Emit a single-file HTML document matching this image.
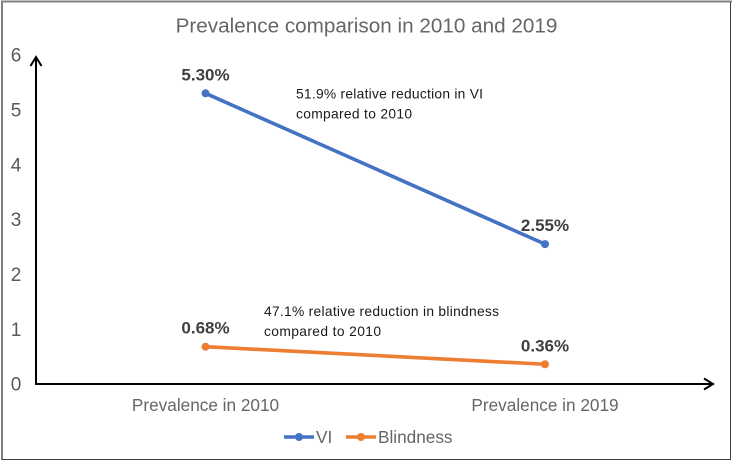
<!DOCTYPE html>
<html>
<head>
<meta charset="utf-8">
<style>
html,body{margin:0;padding:0;background:#fff;width:733px;height:462px;overflow:hidden}
svg{display:block;font-family:"Liberation Sans",sans-serif}
</style>
</head>
<body>
<svg id="chart" width="733" height="462" viewBox="0 0 733 462" xmlns="http://www.w3.org/2000/svg">
<rect x="0" y="0" width="733" height="462" fill="#fff"/>
<line x1="1" y1="1.500" x2="732" y2="1.500" stroke="#808080" stroke-width="2"/>
<line x1="2" y1="1" x2="2" y2="460" stroke="#808080" stroke-width="2"/>
<line x1="730.500" y1="2" x2="730.500" y2="460" stroke="#404040" stroke-width="1"/>
<line x1="2" y1="459.500" x2="731" y2="459.500" stroke="#404040" stroke-width="1"/>
<text x="366.500" y="32.500" text-anchor="middle" font-size="20.700" fill="#666">Prevalence comparison in 2010 and 2019</text>
<g id="y-ticks"></g>
<g id="x-ticks"></g>
<path d="M36 384V58M30.500 66L36 57L41.500 66" fill="none" stroke="#000" stroke-width="2"/>
<path d="M35 384H713M704 378.500L713 384L704 389.500" fill="none" stroke="#000" stroke-width="2"/>
<g id="series"></g>
<text font-size="13.800" fill="#1a1a1a"><tspan x="296" y="98.500" textLength="187">51.9% relative reduction in VI</tspan><tspan x="296" y="118.500" textLength="116">compared to 2010</tspan></text>
<text font-size="13.800" fill="#1a1a1a"><tspan x="264" y="316" textLength="235">47.1% relative reduction in blindness</tspan><tspan x="264" y="336" textLength="117">compared to 2010</tspan></text>
<g id="legend"></g>
</svg>
<script>
const categories = ["Prevalence in 2010", "Prevalence in 2019"];
const viValues = [5.30, 2.55];
const blindnessValues = [0.68, 0.36];
const viLabels = ["5.30%", "2.55%"];
const blindnessLabels = ["0.68%", "0.36%"];
const yTicks = [0, 1, 2, 3, 4, 5, 6];

const NS = "http://www.w3.org/2000/svg";
function xScale(i) { return 205.5 + i * 339.5; }
function yScale(v) { return 384 - v * 54.85; }
function make(tag, attrs, parent) {
  const el = document.createElementNS(NS, tag);
  for (const k in attrs) el.setAttribute(k, attrs[k]);
  parent.appendChild(el);
  return el;
}
const yGroup = document.getElementById("y-ticks");
yTicks.forEach(function (t) {
  const el = make("text", { x: 16, y: yScale(t) + 6.7, "text-anchor": "middle", "font-size": "19", fill: "#595959" }, yGroup);
  
  
  el.textContent = t;
});
const xGroup = document.getElementById("x-ticks");
categories.forEach(function (c, i) {
  const el = make("text", { x: xScale(i), y: 411, "text-anchor": "middle", "font-size": "17.2", fill: "#666" }, xGroup);
  
  
  el.textContent = c;
});
function drawSeries(values, labels, color, name) {
  const g = make("g", {}, document.getElementById("series"));
  
  
  const line = make("polyline", {
    points: values.map(function (v, i) { return xScale(i) + "," + yScale(v); }).join(" "),
    fill: "none", stroke: color, "stroke-width": "3.6"
  }, g);
  
  
  values.forEach(function (v, i) {
    const p = make("circle", { cx: xScale(i), cy: yScale(v), r: 4, fill: color }, g);
    
    
    const t = make("text", { x: xScale(i), y: yScale(v) - 13, "text-anchor": "middle", "font-size": "17", "font-weight": "bold", fill: "#404040" }, g);
    
    
    t.textContent = labels[i];
  });
}
drawSeries(viValues, viLabels, "#4472C4", "vi");
drawSeries(blindnessValues, blindnessLabels, "#ED7D31", "blindness");
const legendItems = [["VI", "#4472C4", 284, 314, 316], ["Blindness", "#ED7D31", 346, 376, 378]];
const legendGroup = document.getElementById("legend");
legendItems.forEach(function (it) {
  const g = make("g", {}, legendGroup);
  
  
  make("line", { x1: it[2], y1: 437, x2: it[3], y2: 437, stroke: it[1], "stroke-width": "3.6" }, g);
  make("circle", { cx: (it[2] + it[3]) / 2, cy: 437, r: 4, fill: it[1] }, g);
  const t = make("text", { x: it[4], y: 443, "font-size": "17.2", fill: "#666" }, g);
  t.textContent = it[0];
});
</script>
</body>
</html>
